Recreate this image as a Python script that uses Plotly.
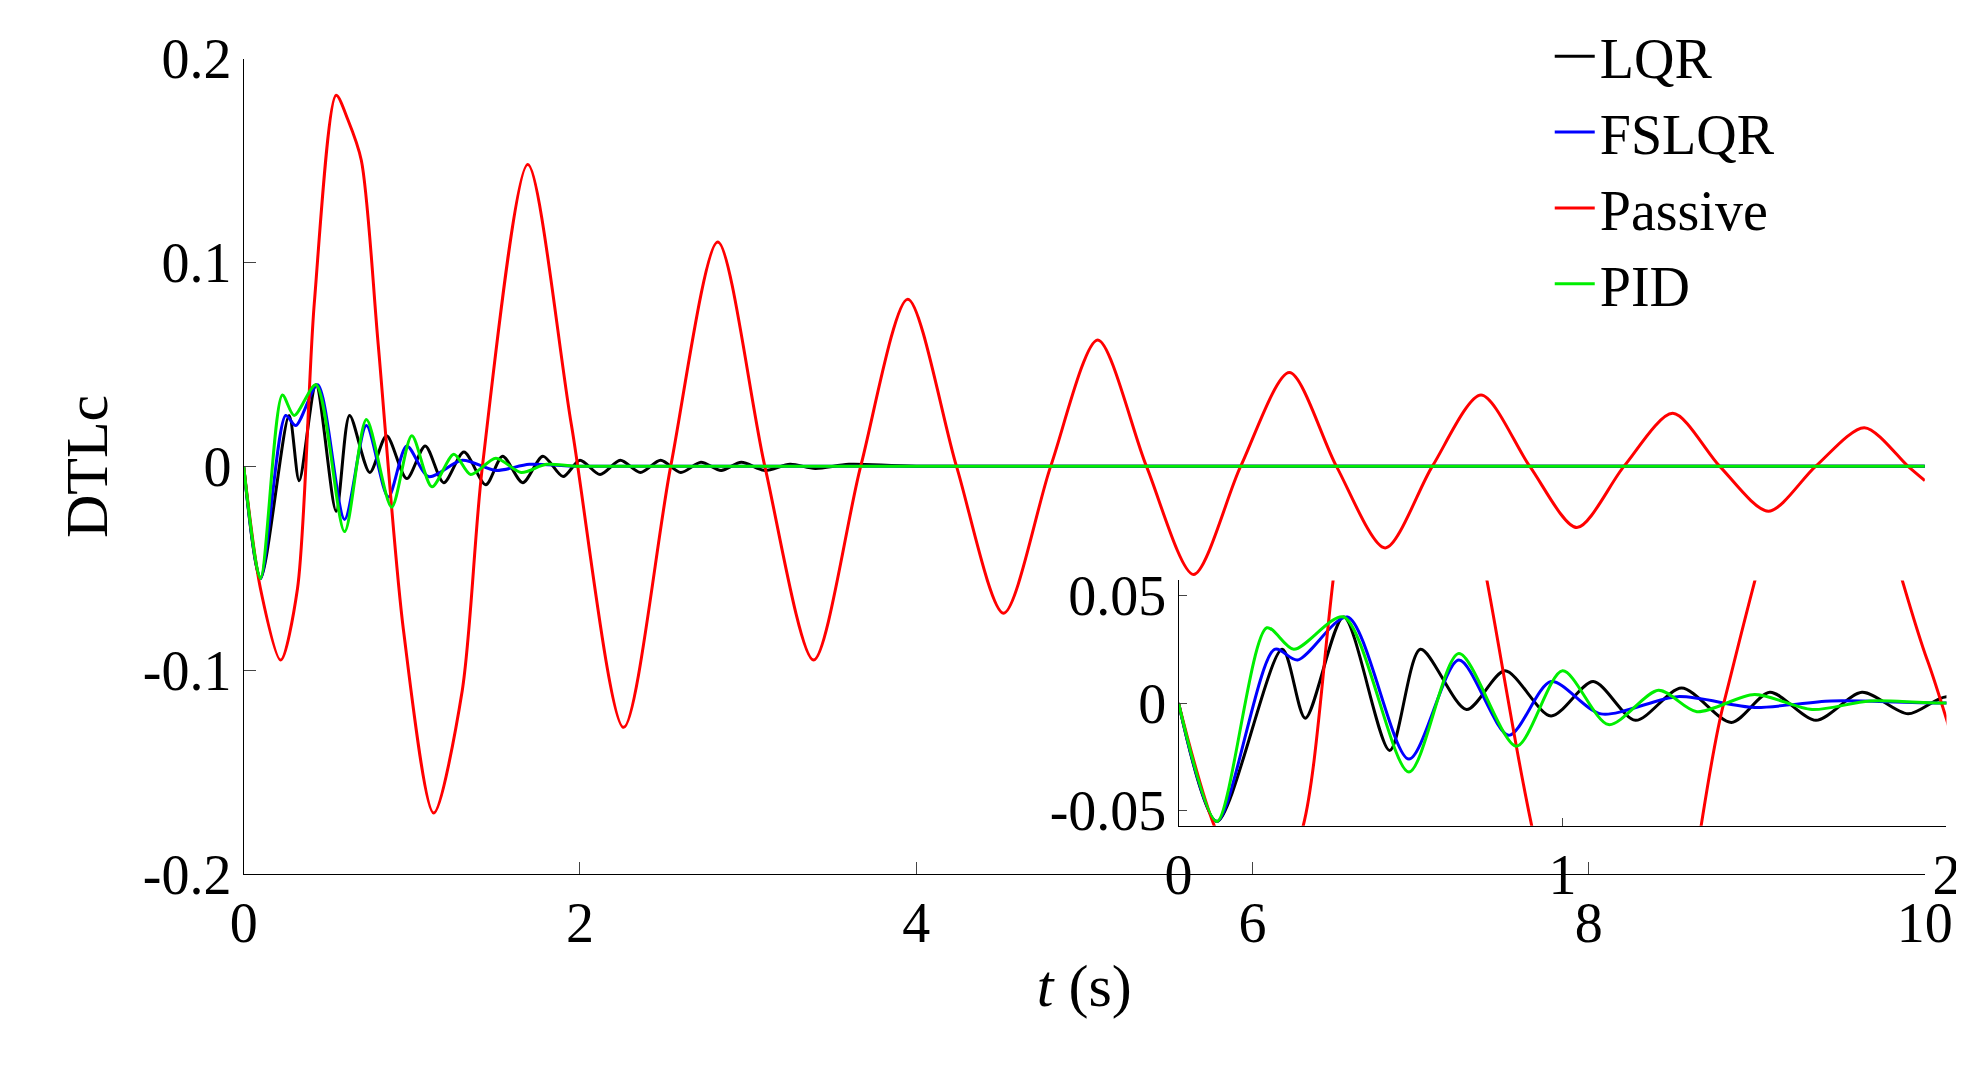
import plotly.graph_objects as go

t_passive = [0,0.1,0.22,0.32,0.42,0.55,0.62,0.7,0.8,0.95,1.13,1.3,1.42,1.69,1.95,2.26,2.54,2.82,3.1,3.39,3.67,3.95,4.24,4.52,4.8,5.08,5.37,5.65,5.93,6.22,6.5,6.79,7.07,7.36,7.65,7.93,8.21,8.5,8.78,9.07,9.35,9.64,9.9,10]
v_passive = [0,-0.06,-0.095,-0.06,0.08,0.182,0.17,0.15,0.06,-0.08,-0.17,-0.11,0,0.148,0.02,-0.128,0,0.11,0,-0.095,0,0.082,0,-0.072,0,0.062,0,-0.053,0,0.046,0,-0.04,0,0.035,0,-0.03,0,0.026,0,-0.022,0,0.019,0,-0.007]

t_lqr = [0,0.1,0.27,0.33,0.43,0.55,0.63,0.75,0.85,0.97,1.08,1.19,1.31,1.44,1.54,1.66,1.78,1.9,2.0,2.12,2.24,2.36,2.48,2.6,2.72,2.84,2.96,3.1,3.25,3.4,3.6,4.0,10]
v_lqr = [0,-0.055,0.025,-0.007,0.04,-0.022,0.025,-0.003,0.015,-0.006,0.01,-0.008,0.007,-0.009,0.005,-0.008,0.005,-0.005,0.003,-0.004,0.003,-0.003,0.003,-0.003,0.002,-0.002,0.002,-0.002,0.001,-0.001,0.001,0,0]

t_fslqr = [0,0.1,0.25,0.31,0.44,0.6,0.73,0.86,0.97,1.1,1.3,1.5,1.7,2.0,10]
v_fslqr = [0,-0.055,0.025,0.02,0.04,-0.026,0.02,-0.015,0.01,-0.005,0.003,-0.002,0.001,0,0]

t_pid = [0,0.1,0.23,0.3,0.43,0.6,0.73,0.88,1.0,1.12,1.25,1.35,1.5,1.65,1.8,2.0,10]
v_pid = [0,-0.055,0.035,0.025,0.04,-0.032,0.023,-0.02,0.015,-0.01,0.006,-0.004,0.004,-0.003,0.001,0,0]

series = [("LQR", t_lqr, v_lqr, "black"), ("FSLQR", t_fslqr, v_fslqr, "blue"),
          ("Passive", t_passive, v_passive, "red"), ("PID", t_pid, v_pid, "#00ee00")]

F = "Liberation Serif"
fig = go.Figure()
for name, t, v, c in series:
    fig.add_trace(go.Scatter(x=t, y=v, name=name, mode="lines", line=dict(color=c, width=3, shape="spline", smoothing=0.8)))
for name, t, v, c in series:
    fig.add_trace(go.Scatter(x=t, y=v, name=name, mode="lines", showlegend=False, xaxis="x2", yaxis="y2",
                             line=dict(color=c, width=3, shape="spline", smoothing=0.8)))

ax = dict(showgrid=False, zeroline=False, showline=True, linecolor="black", ticks="inside", ticklen=12,
          automargin=False, tickfont=dict(family=F, size=56, color="black"))
fig.update_layout(
    width=1964, height=1076, paper_bgcolor="white", plot_bgcolor="white", margin=dict(l=0, r=0, t=0, b=0),
    font=dict(family=F, color="black"),
    xaxis=dict(ax, domain=[0.12, 0.976], range=[0, 10], tickvals=[0, 2, 4, 6, 8, 10],
               title=dict(text="<i>t</i> (s)", font=dict(family=F, size=60), standoff=10)),
    yaxis=dict(ax, domain=[0.195, 0.953], range=[-0.2, 0.2], tickvals=[-0.2, -0.1, 0, 0.1, 0.2],
               ticktext=["-0.2", "-0.1", "0", "0.1", "0.2"],
               title=dict(text="DTLc", font=dict(family=F, size=60), standoff=15)),
    xaxis2=dict(ax, domain=[0.596, 0.987], range=[0, 2], tickvals=[0, 1, 2], anchor="y2", ticklen=8),
    yaxis2=dict(ax, domain=[0.24, 0.468], range=[-0.057, 0.057], tickvals=[-0.05, 0, 0.05],
                ticktext=["-0.05", "0", "0.05"], anchor="x2", ticklen=8),
    legend=dict(x=0.785, y=0.995, xanchor="left", yanchor="top", bgcolor="rgba(0,0,0,0)",
                font=dict(family=F, size=56), tracegroupgap=0, itemwidth=40),
    shapes=[dict(type="rect", xref="paper", yref="paper", x0=0.596, x1=0.987, y0=0.24, y1=0.468,
                 fillcolor="white", line=dict(width=0), layer="below")],
)
fig.write_html("out.html")
